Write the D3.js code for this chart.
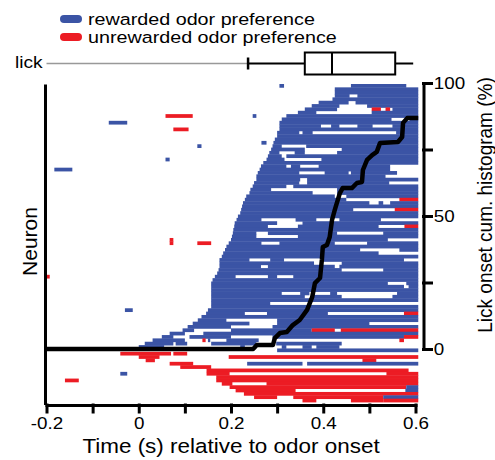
<!DOCTYPE html>
<html>
<head>
<meta charset="utf-8">
<script src="https://cdn.jsdelivr.net/npm/d3@7"></script>
<style>
  body { margin: 0; background: #fff; }
  text { font-family: "Liberation Sans", Arial, sans-serif; fill: #000; }
</style>
</head>
<body>
<svg id="chart" width="495" height="460"></svg>
<script>
const R = "rewarded", U = "unrewarded";
const E = 0.606; // right edge of the raster window (s)

const legendLabels = ["rewarded odor preference", "unrewarded odor preference"];
const legendPrefs = [R, U];

const xTickValues = [-0.2, -0.1, 0, 0.1, 0.2, 0.3, 0.4, 0.5, 0.6];
const xTickLabels = ["-0.2", "", "0", "", "0.2", "", "0.4", "", "0.6"];
const pctTickValues = [0, 25, 50, 75, 100];
const pctTickLabels = ["0", "", "50", "", "100"];

// lick onset box plot: min, q1, median, q3, max (s)
const lickBox = [0.237, 0.36, 0.419, 0.556, 0.595];
const lickRangeStart = -0.2;

// cumulative lick onset histogram
const lickTimes = [-0.2, 0.248, 0.256, 0.291, 0.295, 0.306, 0.321, 0.334, 0.349, 0.365, 0.376, 0.382,
  0.393, 0.397, 0.399, 0.408, 0.414, 0.419, 0.425, 0.436, 0.442, 0.462, 0.473, 0.484, 0.486, 0.495,
  0.506, 0.516, 0.523, 0.562, 0.571, 0.573, 0.582, 0.606];
const lickPct = [0, 0, 1.5, 1.5, 4.1, 6.0, 6.4, 9.0, 10.9, 14.7, 19.5, 24.8,
  26.7, 33.5, 38.3, 39.1, 42.1, 48.5, 52.3, 58.6, 60.5, 60.5, 62.4, 62.8, 67.3, 71.1,
  72.9, 74.1, 77.4, 77.8, 79.7, 85.0, 86.8, 86.8];

// one entry per neuron: [start, end] rewarded-preference bins, [start, end, U] unrewarded
const rewardedNeurons = [
  [[0.305,0.315],[0.46,0.58]],
  [[0.425,E]],
  [[0.425,E]],
  [[0.425,0.457],[0.474,E]],
  [[0.42,E]],
  [[0.39,0.455],[0.47,E]],
  [[0.375,0.435],[0.495,E]],
  [[0.36,0.43],[0.505,0.525,U],[0.535,0.545,U],[0.55,E]],
  [[0.345,0.385],[0.505,E]],
  [[0.058,0.117,U],[0.247,0.255],[0.32,E]],
  [[0.31,0.548],[0.587,E]],
  [[-0.065,-0.025],[0.305,E]],
  [[0.305,0.395],[0.417,0.435],[0.474,0.507],[0.55,E]],
  [[0.075,0.108,U],[0.305,E]],
  [[0.3,0.348],[0.355,0.377],[0.558,E]],
  [[0.3,E]],
  [[0.295,E]],
  [[0.266,0.277],[0.292,E]],
  [[0.127,0.136],[0.29,0.31],[0.363,E]],
  [[0.287,0.36],[0.44,E]],
  [[0.283,0.305],[0.338,0.36],[0.43,E]],
  [[0.28,0.31],[0.32,E]],
  [[0.058,0.067],[0.277,0.316],[0.396,E]],
  [[0.27,E]],
  [[0.265,0.32],[0.33,0.35],[0.39,0.545]],
  [[-0.183,-0.144],[0.262,0.545]],
  [[0.258,0.348],[0.403,0.455],[0.46,0.56]],
  [[0.255,0.535]],
  [[0.255,0.35],[0.365,E]],
  [[0.25,0.348],[0.365,0.543]],
  [[0.247,0.32],[0.335,E]],
  [[0.242,0.287],[0.43,E]],
  [[0.24,0.377],[0.43,E]],
  [[0.233,0.425],[0.45,E]],
  [[0.23,0.45],[0.565,E,U]],
  [[0.226,0.5],[0.52,0.53],[0.545,E]],
  [[0.224,E]],
  [[0.222,0.465],[0.555,E,U]],
  [[0.22,E]],
  [[0.215,E]],
  [[0.212,0.266],[0.34,0.385],[0.435,0.525]],
  [[0.208,0.3],[0.355,E]],
  [[0.207,0.28],[0.345,0.52],[0.576,E,U]],
  [[0.205,E]],
  [[0.204,0.255],[0.28,0.43],[0.53,E]],
  [[0.202,0.255],[0.345,E]],
  [[0.067,0.075,U],[0.2,0.54]],
  [[0.067,0.075,U],[0.127,0.157,U],[0.195,0.266],[0.305,0.425],[0.495,E]],
  [[0.19,E]],
  [[0.187,0.48],[0.565,E]],
  [[0.183,0.52]],
  [[0.18,E]],
  [[0.175,0.24],[0.285,0.315],[0.4,0.575]],
  [[0.175,0.38],[0.44,E]],
  [[0.175,0.265],[0.28,0.425],[0.435,E]],
  [[0.173,0.44],[0.53,E]],
  [[0.17,E]],
  [[-0.2,-0.193,U],[0.165,0.21],[0.28,0.3],[0.335,E]],
  [[0.16,E]],
  [[0.157,0.54],[0.58,E]],
  [[0.157,0.575],[0.585,E]],
  [[0.157,E]],
  [[0.157,0.31],[0.35,0.37],[0.415,0.43],[0.56,E]],
  [[0.157,0.36],[0.375,0.44],[0.55,E]],
  [[0.157,E]],
  [[0.157,0.285]],
  [[0.157,E]],
  [[-0.03,-0.013],[0.15,E]],
  [[0.146,0.23],[0.278,0.41],[0.575,E,U]],
  [[0.136,E]],
  [[0.128,0.19],[0.3,E]],
  [[0.117,0.24],[0.3,0.5]],
  [[0.106,0.2],[0.29,E]],
  [[0.095,0.12],[0.2,0.375],[0.375,0.425,U],[0.438,E,U]],
  [[0.067,0.1],[0.14,E]],
  [[0.05,0.075],[0.11,0.2],[0.29,0.575],[0.575,E,U]],
  [[0.03,0.1],[0.138,0.145,U],[0.15,0.155],[0.19,0.26],[0.565,0.575,U]],
  [[0.013,0.075],[0.08,0.105],[0.157,0.255],[0.298,0.44]],
  [[0.0,0.055],[0.22,0.23],[0.31,0.32],[0.355,0.375],[0.385,0.435]],
  [[0.3,E]]
];

const unrewardedNeurons = [
  [[-0.04,0.07,U],[0.075,0.105,U]],
  [[0.0,0.045,U],[0.195,E,U]],
  [[0.015,0.035,U],[0.485,0.515,U]],
  [[0.067,0.118,U],[0.235,0.355],[0.365,E]],
  [[0.09,0.157,U]],
  [[0.147,0.585,U]],
  [[-0.04,-0.025],[0.147,0.197,U],[0.537,E,U]],
  [[0.168,E,U]],
  [[-0.16,-0.13,U],[0.168,E,U]],
  [[0.18,0.203,U],[0.277,E,U]],
  [[0.197,0.58,U],[0.58,E]],
  [[0.21,0.34,U],[0.578,E]],
  [[0.228,E,U]],
  [[0.25,0.3,U],[0.335,0.53,U],[0.53,E]],
  [[0.355,0.385,U],[0.46,0.53,U],[0.53,E,U]]
];

const blue = "#3b54a5", red = "#ec1c24";
const color = k => k === U ? red : blue;
const SX = 1.14; // horizontal stretch of the lettering

const svg = d3.select("svg#chart");

const x = d3.scaleLinear().domain([-0.2, 0.6]).range([46.5, 415.5]);
const neurons = rewardedNeurons.concat(unrewardedNeurons);
const row = d3.scaleBand().domain(d3.range(neurons.length)).range([84, 402]);
const yPct = d3.scaleLinear().domain([0, 100]).range([349, 83]);

// raster
const segs = neurons.flatMap((r, i) => r.map(s => ({row: i, t0: s[0], t1: s[1], pref: s[2] || R})));
svg.append("g")
  .selectAll("rect")
  .data(segs)
  .join("rect")
    .attr("x", d => x(d.t0))
    .attr("width", d => x(d.t1) - x(d.t0))
    .attr("y", d => row(d.row))
    .attr("height", row.bandwidth() + 0.4)
    .attr("fill", d => color(d.pref));

// cumulative lick onset line
const lickLine = d3.line().x(d => x(d[0])).y(d => yPct(d[1]));
svg.append("path")
  .datum(d3.zip(lickTimes, lickPct))
  .attr("d", lickLine)
  .attr("fill", "none")
  .attr("stroke", "#000")
  .attr("stroke-width", 4.5)
  .attr("stroke-linejoin", "round");

// axes
const styleAxis = g => {
  g.attr("font-size", null).attr("font-family", null);
  g.selectAll("path, line").attr("stroke", "#000").attr("stroke-width", 3).attr("stroke-linecap", "square");
  g.selectAll("text").style("font-size", "16.5px").attr("transform", `scale(${SX},1)`);
};

svg.append("g")
  .attr("transform", "translate(0,405)")
  .call(d3.axisBottom(x).tickValues(xTickValues).tickFormat((d, i) => xTickLabels[i])
    .tickSize(7).tickSizeOuter(0).tickPadding(5))
  .call(styleAxis);

svg.append("g")
  .attr("transform", "translate(423.5,0)")
  .call(d3.axisRight(yPct).tickValues(pctTickValues).tickFormat((d, i) => pctTickLabels[i])
    .tickSize(8).tickSizeOuter(0).tickPadding(1))
  .call(styleAxis);

svg.append("line")
  .attr("x1", 45.5).attr("x2", 45.5)
  .attr("y1", 84.5).attr("y2", 405)
  .attr("stroke", "#000").attr("stroke-width", 3);

// axis titles
svg.append("text")
  .attr("transform", `translate(231,453) scale(${SX},1)`)
  .attr("text-anchor", "middle")
  .style("font-size", "19.7px")
  .text("Time (s) relative to odor onset");

svg.append("text")
  .attr("transform", "translate(36.5,241.5) rotate(-90)")
  .attr("text-anchor", "middle")
  .style("font-size", "21px")
  .text("Neuron");

svg.append("text")
  .attr("transform", "translate(491.5,205) rotate(-90) scale(1,1.1)")
  .attr("text-anchor", "middle")
  .style("font-size", "19px")
  .text("Lick onset cum. histogram (%)");

// lick box plot
const boxY = 63.5, boxH = 22;
const lick = svg.append("g");
lick.append("text")
  .attr("transform", `translate(15,68) scale(${SX},1)`)
  .style("font-size", "16.8px")
  .text("lick");
lick.append("line")
  .attr("x1", x(lickRangeStart)).attr("x2", x(lickBox[0]))
  .attr("y1", boxY).attr("y2", boxY)
  .attr("stroke", "#999").attr("stroke-width", 1.6);
lick.append("line")
  .attr("x1", x(lickBox[0])).attr("x2", x(lickBox[1]))
  .attr("y1", boxY).attr("y2", boxY)
  .attr("stroke", "#000").attr("stroke-width", 2);
lick.append("line")
  .attr("x1", x(lickBox[3])).attr("x2", x(lickBox[4]))
  .attr("y1", boxY).attr("y2", boxY)
  .attr("stroke", "#000").attr("stroke-width", 2);
lick.append("line")
  .attr("x1", x(lickBox[0])).attr("x2", x(lickBox[0]))
  .attr("y1", boxY - 6).attr("y2", boxY + 6)
  .attr("stroke", "#000").attr("stroke-width", 2.5);
lick.append("rect")
  .attr("x", x(lickBox[1])).attr("width", x(lickBox[3]) - x(lickBox[1]))
  .attr("y", boxY - boxH / 2).attr("height", boxH)
  .attr("fill", "none").attr("stroke", "#000").attr("stroke-width", 2);
lick.append("line")
  .attr("x1", x(lickBox[2])).attr("x2", x(lickBox[2]))
  .attr("y1", boxY - boxH / 2).attr("y2", boxY + boxH / 2)
  .attr("stroke", "#000").attr("stroke-width", 2);

// legend
const legend = svg.append("g")
  .selectAll("g")
  .data(legendLabels)
  .join("g")
    .attr("transform", (d, i) => `translate(60,${15 + i * 18})`);
legend.append("rect")
  .attr("width", 22).attr("height", 8).attr("rx", 4)
  .attr("fill", (d, i) => color(legendPrefs[i]));
legend.append("text")
  .attr("transform", `translate(28,10) scale(${SX},1)`)
  .style("font-size", "17.3px")
  .text(d => d);
</script>
</body>
</html>
